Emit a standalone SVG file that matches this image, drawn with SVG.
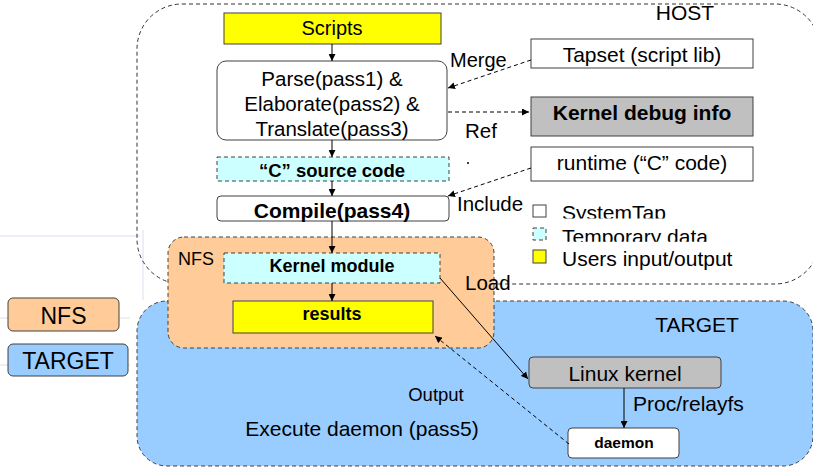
<svg xmlns="http://www.w3.org/2000/svg" width="813" height="468" viewBox="0 0 813 468">
<style>
text{font-family:"Liberation Sans",Arial,sans-serif;fill:#000}
.c{text-anchor:middle}
.b{font-weight:bold}
.box{stroke:#404040;stroke-width:1}
.dash{stroke-dasharray:4 3}
.region{stroke:#404040;stroke-width:1;stroke-dasharray:4 3}
.con{stroke:#000;stroke-width:1;fill:none}
.faint{stroke:#eeeef6;stroke-width:2;fill:none}
</style>
<defs>
<marker id="ah" viewBox="0 0 10 10" refX="10" refY="5" markerWidth="7" markerHeight="7" markerUnits="userSpaceOnUse" orient="auto">
<path d="M0,0 L10,5 L0,10 z" fill="#000"/>
</marker>
<clipPath id="clipSys"><rect x="555" y="190" width="200" height="28.5"/></clipPath>
<clipPath id="clipTmp"><rect x="555" y="222" width="200" height="19.8"/></clipPath>
</defs>
<rect width="813" height="468" fill="#fff"/>
<g id="background">
<path class="faint" d="M0,236 H140 M143,230 V300 M0,318 H130 M0,365 H130"/>
</g>
<g id="host">
<rect x="137" y="4" width="683" height="280" rx="45" fill="none" stroke="#333" stroke-width="1" stroke-dasharray="4 3"/>
<text x="685" y="20" class="c" font-size="21">HOST</text>
</g>
<g id="target">
<rect x="137" y="301" width="676" height="165" rx="30" fill="#99CCFF" class="region"/>
<text x="697" y="331.5" class="c" font-size="21">TARGET</text>
<text x="362" y="435.5" class="c" font-size="21">Execute daemon (pass5)</text>
</g>
<g id="nfs">
<rect x="168" y="237" width="326" height="111" rx="16" fill="#FFCC99" class="region"/>
<text x="196" y="264.5" class="c" font-size="18">NFS</text>
</g>
<g id="scripts">
<rect x="224" y="13" width="217" height="31" fill="#FFFF00" class="box"/>
<text x="332" y="35" class="c" font-size="20">Scripts</text>
</g>
<g id="parse">
<rect x="217" y="61" width="230" height="79" rx="9" fill="#fff" class="box"/>
<text x="332" y="86" class="c" font-size="20.5">Parse(pass1) &amp;</text>
<text x="332" y="111" class="c" font-size="20.5">Elaborate(pass2) &amp;</text>
<text x="332" y="136" class="c" font-size="20.5">Translate(pass3)</text>
</g>
<g id="csource">
<rect x="217" y="157" width="232" height="24" fill="#CCFFFF" class="box dash"/>
<text x="332" y="176.5" class="c b" font-size="18.5">“C” source code</text>
</g>
<g id="compile">
<rect x="217" y="196" width="232" height="25" rx="4" fill="#fff" class="box"/>
<text x="332" y="218" class="c b" font-size="21">Compile(pass4)</text>
</g>
<g id="kmodule">
<rect x="224" y="253" width="216" height="30" fill="#CCFFFF" class="box dash"/>
<text x="332" y="271.5" class="c b" font-size="18">Kernel module</text>
</g>
<g id="results">
<rect x="233" y="301" width="200" height="32" fill="#FFFF00" class="box"/>
<text x="332" y="319.5" class="c b" font-size="18">results</text>
</g>
<g id="tapset">
<rect x="531" y="39" width="222" height="29" fill="#fff" class="box"/>
<text x="642" y="62" class="c" font-size="21">Tapset (script lib)</text>
</g>
<g id="kdebug">
<rect x="531" y="97" width="222" height="39" fill="#C0C0C0" class="box"/>
<text x="642" y="120" class="c b" font-size="21">Kernel debug info</text>
</g>
<g id="runtime">
<rect x="531" y="147" width="222" height="34" fill="#fff" class="box"/>
<text x="642" y="170" class="c" font-size="21">runtime (“C” code)</text>
</g>
<g id="linux">
<rect x="529" y="357" width="192" height="31" rx="4" fill="#C0C0C0" class="box"/>
<text x="625" y="381" class="c" font-size="21">Linux kernel</text>
</g>
<g id="daemon">
<rect x="568" y="428" width="111" height="30" rx="4" fill="#fff" class="box"/>
<text x="624" y="447.5" class="c b" font-size="15.5">daemon</text>
</g>
<g id="legend">
<rect x="533" y="205" width="13" height="12" fill="#fff" class="box"/>
<rect x="533" y="228" width="13" height="12" fill="#CCFFFF" class="box dash"/>
<rect x="533" y="250" width="13" height="13" fill="#FFFF00" class="box"/>
<text x="562" y="220" font-size="21" clip-path="url(#clipSys)">SystemTap</text>
<text x="562" y="243.5" font-size="21" clip-path="url(#clipTmp)">Temporary data</text>
<text x="562" y="266" font-size="21">Users input/output</text>
</g>
<g id="side-legend">
<rect x="8" y="298" width="111" height="33" rx="5" fill="#FFCC99" class="box"/>
<text x="63.5" y="323.5" class="c" font-size="23">NFS</text>
<rect x="8" y="344" width="120" height="32" rx="5" fill="#99CCFF" class="box"/>
<text x="68" y="368.5" class="c" font-size="23">TARGET</text>
</g>
<g id="connectors">
<line class="con" x1="332" y1="44" x2="332" y2="61" marker-end="url(#ah)"/>
<line class="con" x1="332" y1="140" x2="332" y2="157" marker-end="url(#ah)"/>
<line class="con" x1="332" y1="181" x2="332" y2="196" marker-end="url(#ah)"/>
<line class="con" x1="332" y1="221" x2="332" y2="253" marker-end="url(#ah)"/>
<line class="con" x1="332" y1="283" x2="332" y2="301" marker-end="url(#ah)"/>
<line class="con dash" x1="531" y1="60" x2="448" y2="88" marker-end="url(#ah)"/>
<line class="con dash" x1="448" y1="112" x2="529" y2="112" marker-end="url(#ah)"/>
<line class="con dash" x1="531" y1="168" x2="448" y2="196" marker-end="url(#ah)"/>
<line class="con" x1="440" y1="278" x2="528" y2="379" marker-end="url(#ah)"/>
<line class="con" x1="624" y1="388" x2="624" y2="428" marker-end="url(#ah)"/>
<line class="con dash" x1="569" y1="444" x2="435" y2="336" marker-end="url(#ah)"/>
<circle cx="468" cy="163" r="1" fill="#000"/>
<text x="450" y="67" font-size="20">Merge</text>
<text x="465" y="138" font-size="20.5">Ref</text>
<text x="457" y="210.5" font-size="20.5">Include</text>
<text x="465" y="290" font-size="20.5">Load</text>
<text x="436" y="400.5" class="c" font-size="18.5">Output</text>
<text x="633" y="410.5" font-size="21">Proc/relayfs</text>
</g>
</svg>
